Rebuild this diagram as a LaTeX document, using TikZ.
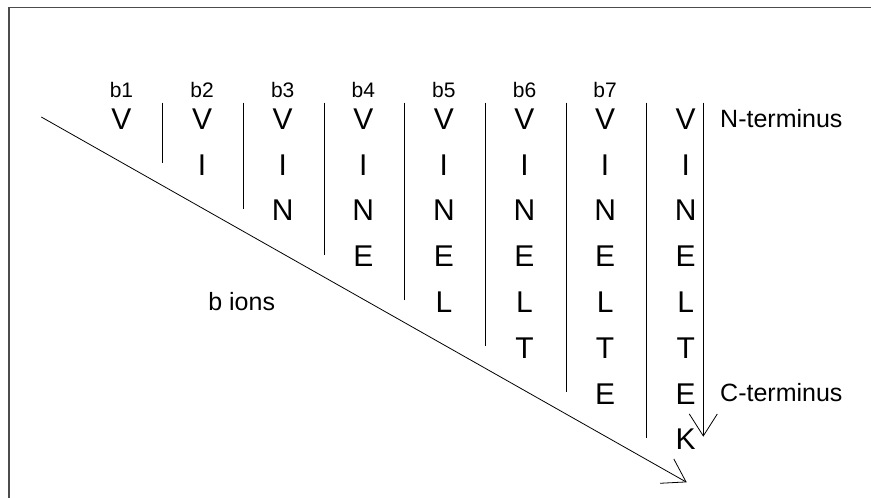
\documentclass[tikz,border=0pt]{standalone}
\usepackage{fontspec}
\setmainfont{Liberation Sans}
\usetikzlibrary{arrows.meta}
\begin{document}
\begin{tikzpicture}[x=1pt,y=-1pt,
  res/.style={font=\fontsize{30}{30}\selectfont, inner sep=0pt, anchor=center},
  blab/.style={font=\fontsize{21}{21}\selectfont, inner sep=0pt, anchor=center},
  lab/.style={font=\fontsize{25}{25}\selectfont, inner sep=0pt},
  sepline/.style={line width=0.8pt, black},
  barb/.style={line width=0.8pt, -{Straight Barb[length=22pt,width=28pt,line width=0.8pt]}},
  framel/.style={line width=1.6pt, draw=black!70}]
\useasboundingbox (0,0) rectangle (871,498);
\fill[white] (0,0) rectangle (871,498);
% frame
\coordinate (ftr) at (875,7.5);
\coordinate (ftl) at (9,7.5);
\coordinate (fbl) at (9,502);
\draw[framel] (ftr) -- (ftl) -- (fbl);
% residues
\foreach \c in {1,...,8} {
  \foreach [count=\r] \L in {V,I,N,E,L,T,E,K} {
    \ifnum\r>\c\relax\else
      \node[res] (l\c-\r) at ({121.5+80.6*(\c-1)}, {119+45.8*(\r-1)}) {\L};
    \fi
  }
}
% b labels
\foreach \c in {1,...,7} {
  \node[blab] (b\c) at ({121.5+80.6*(\c-1)}, 90) {b\c};
}
% separators
\foreach \k in {1,...,7} {
  \coordinate (st\k) at ({162.5+80.7*(\k-1)}, 102.7);
  \coordinate (sb\k) at ({162.5+80.7*(\k-1)}, {163+45.8*(\k-1)});
  \draw[sepline] (st\k) -- (sb\k);
}
% N to C arrow
\coordinate (ntop) at (703.3,102.7);
\coordinate (ctip) at (703.3,436.7);
\draw[barb] (ntop) -- (ctip);
% diagonal arrow
\coordinate (dstart) at (41.3,117);
\coordinate (dtip) at (686.7,482.3);
\draw[barb] (dstart) -- (dtip);
% labels
\node[lab, anchor=west] (nterm) at (720,119) {N-terminus};
\node[lab, anchor=west] (cterm) at (720,393) {C-terminus};
\node[lab] (bions) at (241.7,301.7) {b ions};
\end{tikzpicture}
\end{document}
